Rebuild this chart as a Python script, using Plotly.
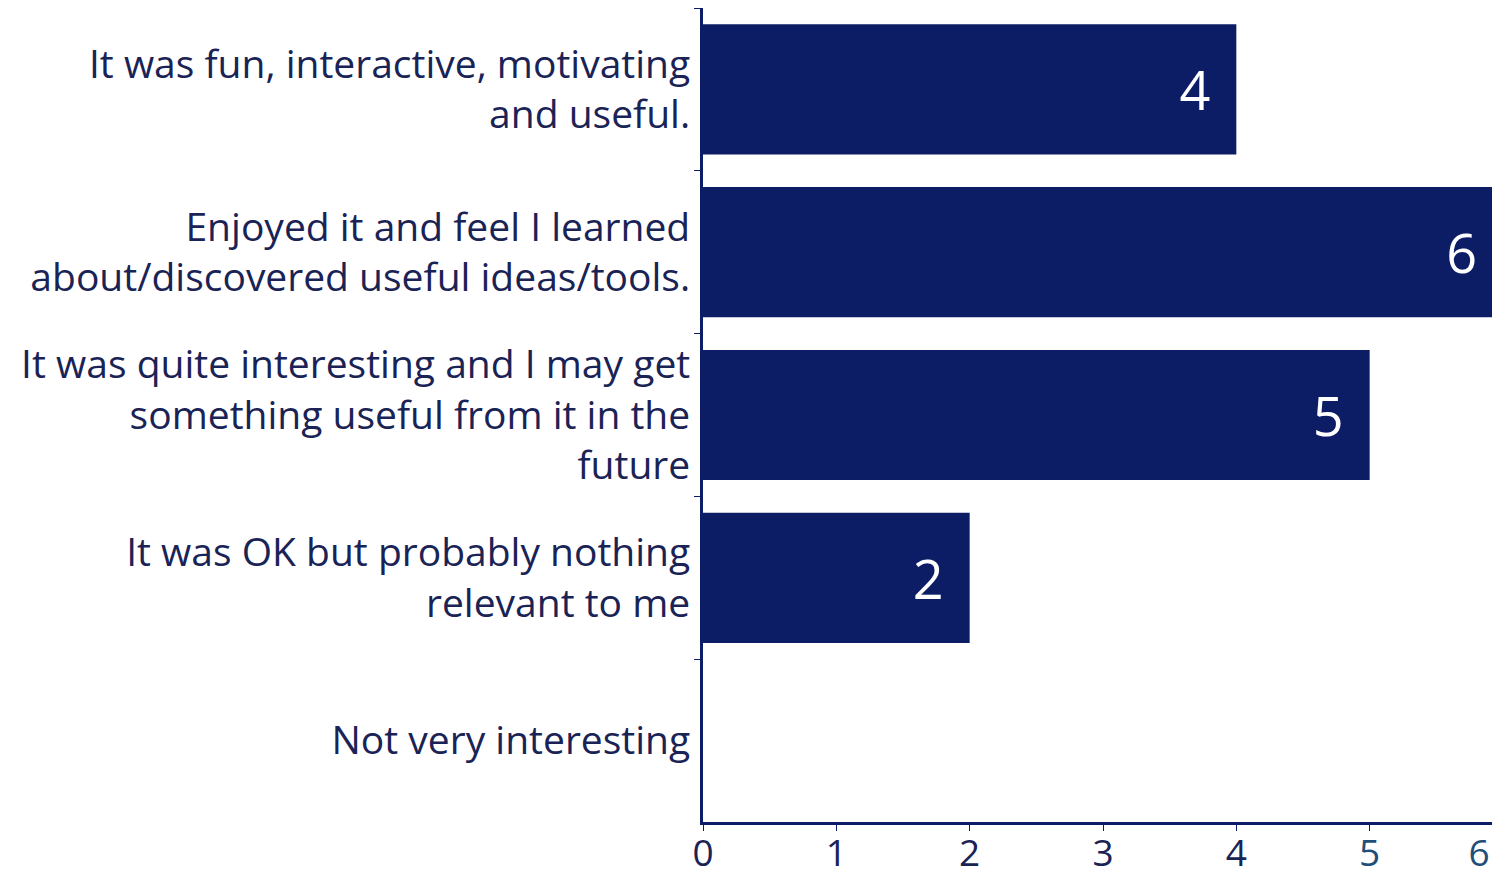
import plotly.graph_objects as go

categories = [
    "It was fun, interactive, motivating<br>and useful.",
    "Enjoyed it and feel I learned<br>about/discovered useful ideas/tools.",
    "It was quite interesting and I may get<br>something useful from it in the<br>future",
    "It was OK but probably nothing<br>relevant to me",
    "Not very interesting",
]
values = [4, 6, 5, 2, 0]
tick_vals = [0, 1, 2, 3, 4, 5, 6]
tick_text = ["0", "1", "2", "3", "4",
             "<span style='color:#1f4e79'>5</span>",
             "<span style='color:#1f4e79'>6\u00a0\u00a0\u00a0\u00a0\u00a0</span>"]

navy = "#0c1d66"
labels = [f"{v}\u00a0\u2009" if v > 0 else "" for v in values]

fig = go.Figure(go.Bar(
    x=values, y=categories, orientation="h",
    marker=dict(color=navy, line=dict(width=0)),
    text=labels, textposition="inside", insidetextanchor="end",
    textfont=dict(color="white", size=54, family="Open Sans"),
    cliponaxis=False,
))

fig.update_layout(
    width=1500, height=873,
    margin=dict(l=695, r=5, t=0, b=59),
    paper_bgcolor="white", plot_bgcolor="white",
    bargap=0.2, showlegend=False,
    font=dict(family="Open Sans", color="#1a2355"),
)
fig.update_yaxes(
    autorange="reversed", tickson="boundaries", ticks="outside", ticklen=6,
    tickcolor=navy, showline=True, linecolor=navy, linewidth=3,
    tickfont=dict(size=39, color="#1a2355"), showgrid=False, ticklabelstandoff=2,
    automargin=False,
)
fig.update_xaxes(
    range=[0, 6], tickvals=tick_vals, ticktext=tick_text, ticks="outside",
    ticklen=6, tickcolor=navy, showline=True, linecolor=navy, linewidth=3,
    tickfont=dict(size=37, color="#1a2355"), showgrid=False, zeroline=False,
    automargin=False, ticklabeloverflow="allow", ticklabelstandoff=-9,
)
fig.write_html("out.html")
